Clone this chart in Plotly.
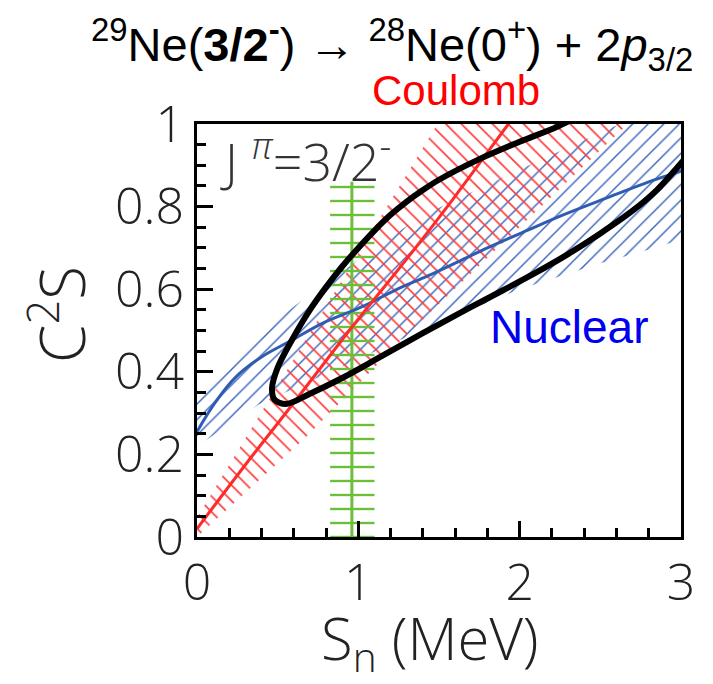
import plotly.graph_objects as go

# ---- data ----
# Coulomb (red) central line
coul_x = [0.0, 0.3, 0.6, 0.96, 1.33, 1.6, 1.93, 2.1]
coul_y = [0.02, 0.175, 0.325, 0.508, 0.688, 0.825, 1.0, 1.09]
# Coulomb band edges
coul_up_x = [0.0, 0.5, 1.0, 1.49, 1.6]
coul_up_y = [0.047, 0.367, 0.687, 1.0, 1.07]
coul_lo_x = [0.0, 0.67, 1.3, 2.08, 2.67, 3.0]
coul_lo_y = [0.0, 0.24, 0.49, 0.78, 1.0, 1.12]

# Nuclear (blue) central line
nuc_x = [0.0, 0.11, 0.24, 0.40, 0.59, 0.78, 1.02, 1.23, 1.43, 1.6, 1.8, 2.05, 2.27, 2.54, 2.83, 3.0]
nuc_y = [0.255, 0.324, 0.387, 0.436, 0.477, 0.518, 0.557, 0.598, 0.632, 0.663, 0.70, 0.743, 0.780, 0.821, 0.864, 0.886]
# Nuclear band edges
nuc_up_x = [0.0, 0.12, 0.47, 0.78, 1.38, 2.0, 2.62, 3.0]
nuc_up_y = [0.33, 0.39, 0.52, 0.61, 0.775, 0.89, 1.0, 1.07]
nuc_lo_x = [0.0, 0.38, 1.0, 1.5, 2.0, 2.5, 2.75, 3.0]
nuc_lo_y = [0.22, 0.32, 0.43, 0.52, 0.60, 0.663, 0.69, 0.72]

# experimental Sn (green)
sn_value = 0.96
sn_low = 0.825
sn_high = 1.10
sn_top = 0.86

# black contour: lower branch (left->right) and upper branch (right->left)
cont_lo_x = [0.55, 0.70, 0.90, 1.10, 1.30, 1.50, 1.70, 1.90, 2.10, 2.30, 2.50, 2.70, 2.85, 3.00, 3.12]
cont_lo_y = [0.322, 0.347, 0.385, 0.428, 0.472, 0.515, 0.557, 0.598, 0.640, 0.685, 0.735, 0.790, 0.840, 0.905, 0.960]
cont_up_x = [3.12, 2.60, 2.23, 2.00, 1.75, 1.50, 1.40, 1.30, 1.20, 1.10, 1.00, 0.90, 0.80, 0.70, 0.60, 0.50, 0.465, 0.48, 0.55]
cont_up_y = [1.10, 1.06, 0.993, 0.957, 0.915, 0.865, 0.840, 0.812, 0.780, 0.742, 0.700, 0.655, 0.605, 0.550, 0.485, 0.410, 0.360, 0.333, 0.322]

x_ticks = [0, 1, 2, 3]
y_ticks = [0, 0.2, 0.4, 0.6, 0.8, 1.0]
y_ticktext = ["0", "0.2", "0.4", "0.6", "0.8", "1"]

RED = "#ff2a2a"
BLUE = "#2f5cb0"
GREEN = "#6cbf3a"
TRANSP = "rgba(0,0,0,0)"
GREY = "#222222"

fig = go.Figure()

# Nuclear band (blue hatch)
fig.add_trace(go.Scatter(
    x=nuc_up_x + nuc_lo_x[::-1], y=nuc_up_y + nuc_lo_y[::-1],
    mode="lines", line=dict(width=0, color=TRANSP), fill="toself", fillcolor=TRANSP,
    fillpattern=dict(shape="/", fgcolor="#3a66bd", bgcolor=TRANSP, size=11, solidity=0.13, fillmode="replace"),
    hoverinfo="skip", showlegend=False))

# Coulomb band (red hatch)
fig.add_trace(go.Scatter(
    x=coul_up_x + coul_lo_x[::-1], y=coul_up_y + coul_lo_y[::-1],
    mode="lines", line=dict(width=0, color=TRANSP), fill="toself", fillcolor=TRANSP,
    fillpattern=dict(shape="\\", fgcolor="#ff3c3c", bgcolor=TRANSP, size=11, solidity=0.15, fillmode="replace"),
    hoverinfo="skip", showlegend=False))

# Sn band (green hatch)
fig.add_trace(go.Scatter(
    x=[sn_low, sn_high, sn_high, sn_low, sn_low], y=[0, 0, sn_top, sn_top, 0],
    mode="lines", line=dict(width=0, color=TRANSP), fill="toself", fillcolor=TRANSP,
    fillpattern=dict(shape="-", fgcolor=GREEN, bgcolor=TRANSP, size=14, solidity=0.17, fillmode="replace"),
    hoverinfo="skip", showlegend=False))

fig.add_trace(go.Scatter(x=[sn_value, sn_value], y=[0, sn_top], mode="lines",
                         line=dict(color=GREEN, width=3), hoverinfo="skip", showlegend=False))

# central lines
fig.add_trace(go.Scatter(x=nuc_x, y=nuc_y, mode="lines", line=dict(color=BLUE, width=3, shape="spline"),
                         hoverinfo="skip", showlegend=False))
fig.add_trace(go.Scatter(x=coul_x, y=coul_y, mode="lines", line=dict(color=RED, width=3, shape="spline"),
                         hoverinfo="skip", showlegend=False))

# contour
fig.add_trace(go.Scatter(x=cont_lo_x + cont_up_x, y=cont_lo_y + cont_up_y, mode="lines",
                         line=dict(color="black", width=6, shape="spline", smoothing=0.9),
                         hoverinfo="skip", showlegend=False))

TICKFONT = dict(family="Open Sans", size=50, color=GREY, weight=350)

fig.update_xaxes(range=[0, 3], tickvals=x_ticks, ticks="inside", ticklen=16, tickwidth=2.5, tickcolor="black",
                 showline=True, linewidth=3, linecolor="black", mirror=True, showgrid=False, zeroline=False,
                 minor=dict(ticks="inside", dtick=0.2, ticklen=9, tickwidth=2.5, tickcolor="black"),
                 tickfont=TICKFONT)
fig.update_yaxes(range=[0, 1], tickvals=y_ticks, ticktext=y_ticktext, ticks="inside", ticklen=16, tickwidth=2.5,
                 tickcolor="black", showline=True, linewidth=3, linecolor="black", mirror=True, showgrid=False,
                 zeroline=False,
                 minor=dict(ticks="inside", dtick=0.05, ticklen=9, tickwidth=2.5, tickcolor="black"),
                 tickfont=TICKFONT)

# axis titles
fig.add_annotation(xref="paper", yref="paper", x=0.481, y=-0.252, xanchor="center", yanchor="middle",
                   text="S<sub>n</sub> (MeV)", showarrow=False,
                   font=dict(family="Open Sans", size=58, color=GREY, weight=350))
fig.add_annotation(xref="paper", yref="paper", x=-0.287, y=0.5375, xanchor="center", yanchor="middle",
                   text="C<sup>2</sup>S", showarrow=False, textangle=-90,
                   font=dict(family="Open Sans", size=62, color=GREY, weight=350))

fig.add_annotation(xref="paper", yref="paper", x=0.403, y=1.193, xanchor="center", yanchor="middle",
                   text="<sup>29</sup>Ne(<b>3/2<sup>-</sup></b>) → <sup>28</sup>Ne(0<sup>+</sup>) + 2<i>p</i><sub>3/2</sub>",
                   showarrow=False, font=dict(family="Liberation Sans", size=47, color="black"))
fig.add_annotation(xref="paper", yref="paper", x=0.535, y=1.08, xanchor="center", yanchor="middle",
                   text="Coulomb", showarrow=False, font=dict(family="Liberation Sans", size=42, color="#ff0000"))
fig.add_annotation(xref="x", yref="y", x=2.31, y=0.508, xanchor="center", yanchor="middle",
                   text="Nuclear", showarrow=False, font=dict(family="Liberation Sans", size=46, color="#0000ee"))
fig.add_annotation(xref="x", yref="y", x=0.13, y=0.918, xanchor="left", yanchor="middle",
                   text="J <sup><i>π</i></sup>=3/2<sup>-</sup>", showarrow=False,
                   font=dict(family="Open Sans", size=52, color="#333333", weight=350))

fig.update_layout(width=713, height=684, margin=dict(l=197, r=32, t=124, b=147),
                  plot_bgcolor="white", paper_bgcolor="white", showlegend=False)

fig.write_html("out.html")
